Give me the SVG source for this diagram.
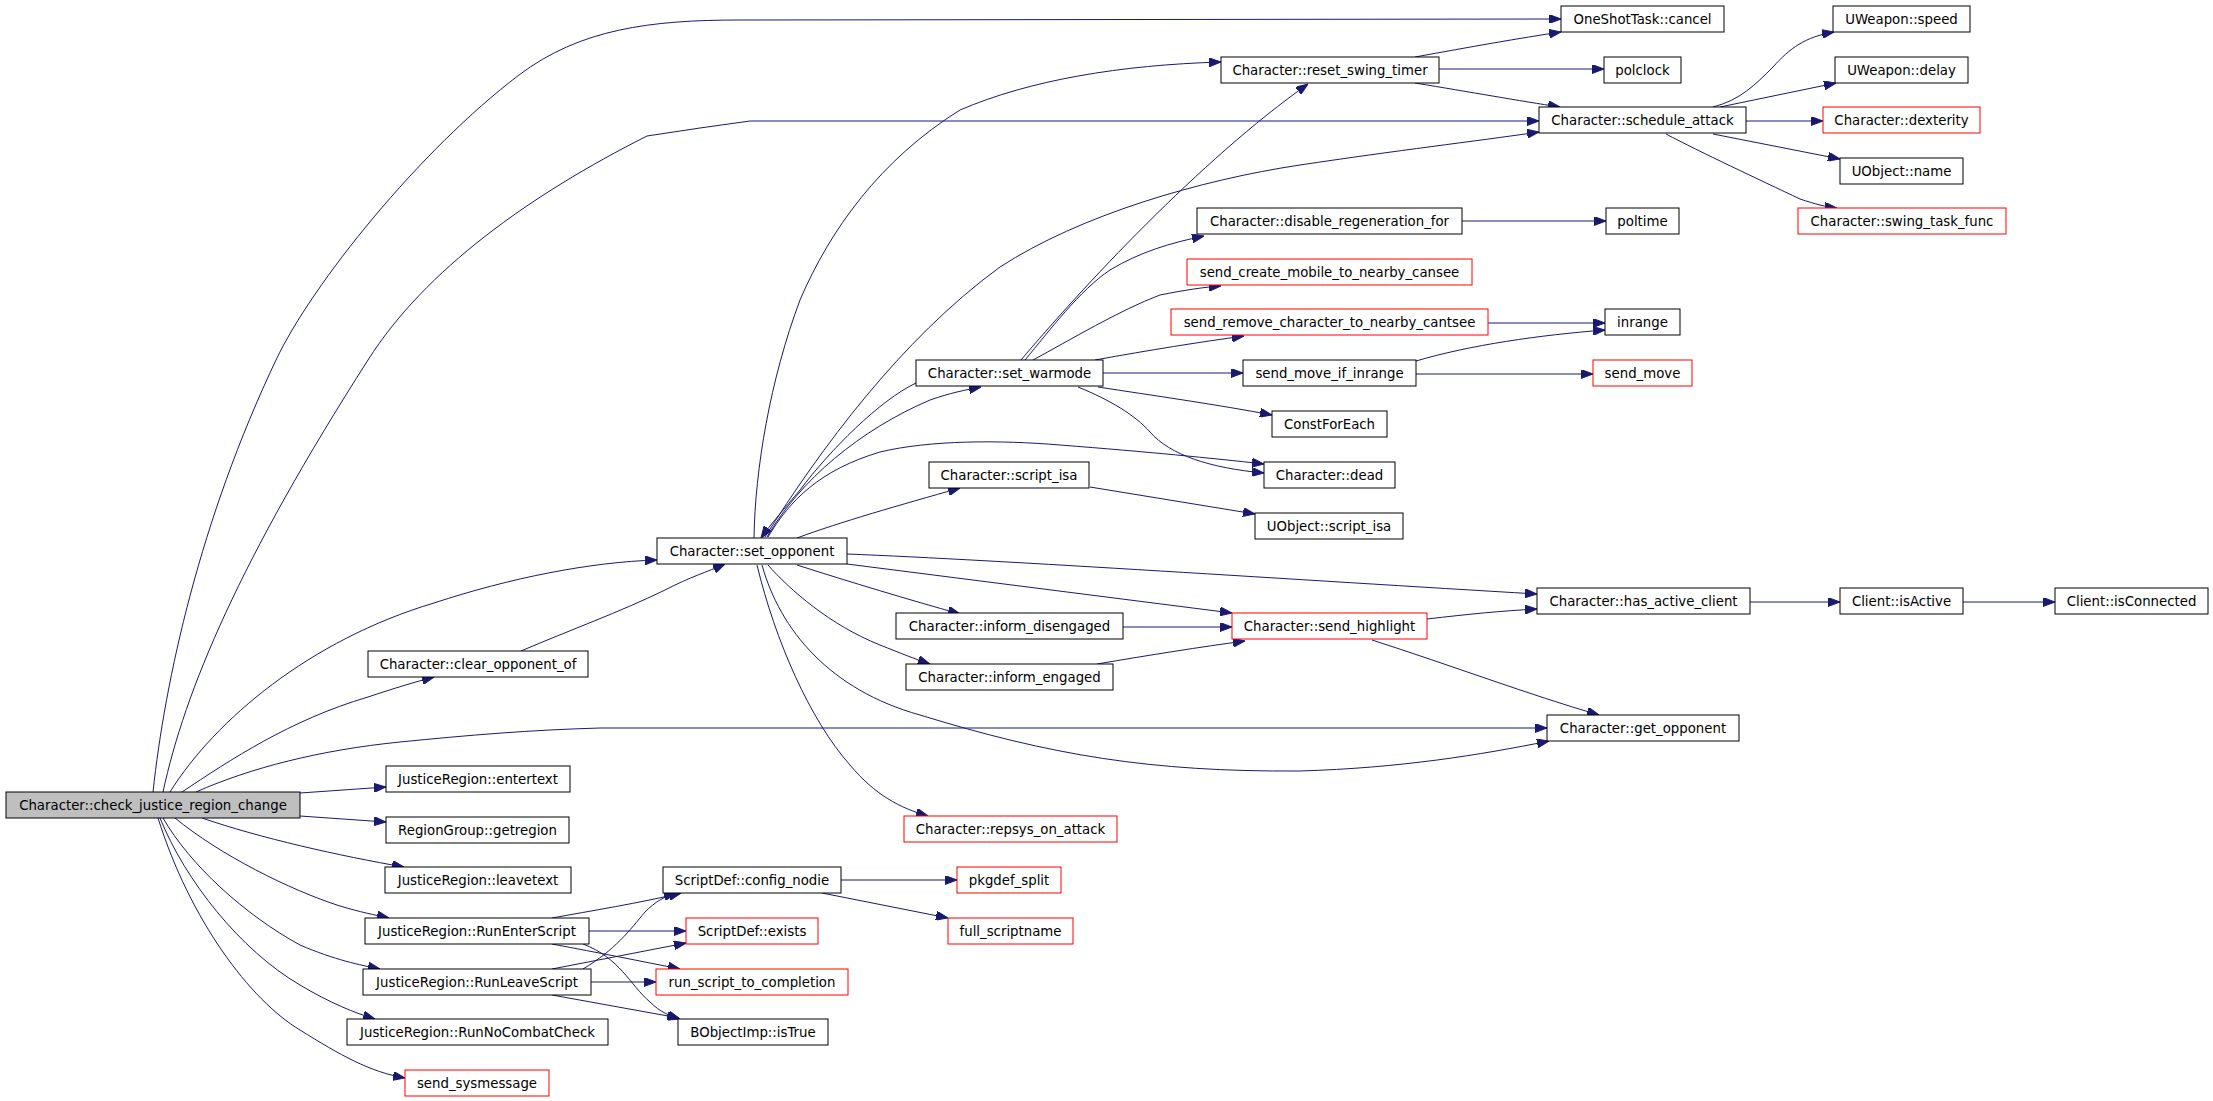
<svg xmlns="http://www.w3.org/2000/svg" width="2213" height="1101" viewBox="0 0 2213 1101">
<style>
.n rect{fill:#fff;stroke:#000;stroke-width:1}
.n.r rect{stroke:#f00}
.n.root rect{fill:#bfbfbf}
.n text{font-family:"DejaVu Sans","Liberation Sans",sans-serif;font-size:13.3px;text-anchor:middle;fill:#000}
#edges path{fill:none;stroke:#191970;stroke-width:1;marker-end:url(#a)}
</style>
<defs>
<marker id="a" viewBox="0 0 12 9" refX="12" refY="4.5" markerWidth="12" markerHeight="9" markerUnits="userSpaceOnUse" orient="auto"><path d="M0,0 L12,4.5 L0,9 z" fill="#191970" stroke="#191970" stroke-width="1"/></marker>
</defs>
<rect width="2213" height="1101" fill="#fff"/>
<g id="edges">
<path d="M153,792 C165,680 200,520 276,360 C312,284 420,150 519,75 C580,29 650,20 740,20 L1561,19"/>
<path d="M163,792 C185,690 240,560 368,360 C425,270 530,195 647,136 L700,128 L750,121 L1539,121"/>
<path d="M170,792 C215,720 310,640 434,603 C510,578 590,562 657,560"/>
<path d="M182,792 C230,760 290,720 368,697 C395,688 415,682 434,677"/>
<path d="M521,651 C570,630 620,612 665,590 C690,577 707,572 725,564"/>
<path d="M196,792 C250,768 320,750 400,742 C470,735 530,730 600,728 L1547,728"/>
<path d="M300,793 L386,787"/>
<path d="M300,816 L386,822"/>
<path d="M202,818 C260,838 340,856 404,867"/>
<path d="M175,818 C220,855 290,890 340,906 C360,912 375,915 389,918"/>
<path d="M163,818 C190,865 245,915 300,945 C335,960 360,965 380,969"/>
<path d="M160,818 C185,880 240,950 300,985 C330,1003 355,1013 375,1019"/>
<path d="M158,818 C190,920 250,1000 300,1030 C340,1055 370,1072 405,1078"/>
<path d="M552,918 C590,911 640,903 681,893"/>
<path d="M589,931 L686,931"/>
<path d="M552,944 C600,953 640,961 680,969"/>
<path d="M583,944 C620,958 630,985 650,1002 C660,1012 670,1016 680,1019"/>
<path d="M583,969 C615,950 630,930 645,912 C655,902 665,896 676,893"/>
<path d="M552,969 L686,943"/>
<path d="M591,982 L656,982"/>
<path d="M552,995 L679,1018"/>
<path d="M841,880 L957,880"/>
<path d="M822,893 L948,918"/>
<path d="M754,538 C755,470 770,380 800,300 C830,230 880,160 960,110 C1030,80 1120,65 1221,62"/>
<path d="M765,537 C820,450 900,340 1000,267 C1080,215 1200,180 1300,165 C1400,150 1470,142 1539,132"/>
<path d="M767,537 C800,480 860,430 930,400 C950,393 965,390 981,387"/>
<path d="M916,383 C880,400 830,450 800,490 C785,508 770,525 761,538"/>
<path d="M768,537 C790,500 820,470 880,452 C930,440 1000,440 1060,445 C1150,452 1210,458 1264,464"/>
<path d="M797,538 C840,522 900,505 960,488"/>
<path d="M847,554 C1000,560 1300,580 1537,594"/>
<path d="M847,564 L1232,613"/>
<path d="M797,565 C850,582 910,600 960,614"/>
<path d="M768,565 C790,590 830,625 880,645 C900,653 915,659 930,664"/>
<path d="M762,565 C780,630 830,690 920,715 C1050,755 1150,772 1300,771 C1400,768 1480,755 1549,741"/>
<path d="M757,565 C775,640 810,720 850,765 C875,795 900,808 928,816"/>
<path d="M1103,373 L1243,373"/>
<path d="M1098,387 C1150,395 1220,405 1272,415"/>
<path d="M1078,387 C1110,400 1135,415 1150,432 C1170,455 1210,468 1264,473"/>
<path d="M1095,360 C1150,350 1200,342 1244,336"/>
<path d="M1033,360 C1070,340 1120,310 1160,295 C1185,290 1205,287 1221,286"/>
<path d="M1025,360 C1050,330 1080,290 1110,270 C1140,252 1170,243 1204,236"/>
<path d="M1021,360 C1080,290 1200,160 1308,84"/>
<path d="M1415,57 C1470,47 1520,38 1561,32"/>
<path d="M1439,69 L1604,69"/>
<path d="M1415,83 C1470,92 1520,101 1560,107"/>
<path d="M1713,107 C1740,100 1755,85 1773,67 C1790,48 1805,37 1834,32"/>
<path d="M1720,107 L1836,83"/>
<path d="M1746,121 L1823,121"/>
<path d="M1713,134 L1840,159"/>
<path d="M1666,134 C1700,152 1760,180 1800,199 C1815,204 1826,207 1837,208"/>
<path d="M1462,221 L1606,221"/>
<path d="M1488,323 L1605,323"/>
<path d="M1416,361 C1470,345 1540,335 1605,330"/>
<path d="M1416,374 L1593,374"/>
<path d="M1090,487 L1255,514"/>
<path d="M1123,627 L1232,627"/>
<path d="M1097,664 C1150,655 1200,647 1245,641"/>
<path d="M1427,619 C1470,614 1500,611 1537,609"/>
<path d="M1372,640 C1450,665 1530,695 1599,715"/>
<path d="M1750,602 L1840,602"/>
<path d="M1963,602 L2055,602"/>
</g>
<g id="n_cj" class="n root"><rect x="6" y="792" width="294" height="26"/><text x="153" y="810">Character::check_justice_region_change</text></g>
<g id="n_cancel" class="n"><rect x="1561" y="6" width="163" height="26"/><text x="1642.5" y="24">OneShotTask::cancel</text></g>
<g id="n_polclock" class="n"><rect x="1604" y="57" width="77" height="26"/><text x="1642.5" y="75">polclock</text></g>
<g id="n_sched" class="n"><rect x="1539" y="107" width="207" height="26"/><text x="1642.5" y="125">Character::schedule_attack</text></g>
<g id="n_poltime" class="n"><rect x="1606" y="208" width="73" height="26"/><text x="1642.5" y="226">poltime</text></g>
<g id="n_inrange" class="n"><rect x="1605" y="309" width="75" height="26"/><text x="1642.5" y="327">inrange</text></g>
<g id="n_sendmove" class="n r"><rect x="1593" y="360" width="99" height="26"/><text x="1642.5" y="378">send_move</text></g>
<g id="n_hasactive" class="n"><rect x="1537" y="588" width="213" height="26"/><text x="1643.5" y="606">Character::has_active_client</text></g>
<g id="n_getopp" class="n"><rect x="1547" y="715" width="192" height="26"/><text x="1643" y="733">Character::get_opponent</text></g>
<g id="n_speed" class="n"><rect x="1833" y="6" width="137" height="26"/><text x="1901.5" y="24">UWeapon::speed</text></g>
<g id="n_delay" class="n"><rect x="1835" y="57" width="133" height="26"/><text x="1901.5" y="75">UWeapon::delay</text></g>
<g id="n_dex" class="n r"><rect x="1823" y="107" width="157" height="26"/><text x="1901.5" y="125">Character::dexterity</text></g>
<g id="n_name" class="n"><rect x="1840" y="158" width="123" height="26"/><text x="1901.5" y="176">UObject::name</text></g>
<g id="n_swing" class="n r"><rect x="1798" y="208" width="208" height="26"/><text x="1902" y="226">Character::swing_task_func</text></g>
<g id="n_isactive" class="n"><rect x="1840" y="588" width="123" height="26"/><text x="1901.5" y="606">Client::isActive</text></g>
<g id="n_isconn" class="n"><rect x="2055" y="588" width="153" height="26"/><text x="2131.5" y="606">Client::isConnected</text></g>
<g id="n_reset" class="n"><rect x="1221" y="57" width="218" height="26"/><text x="1330" y="75">Character::reset_swing_timer</text></g>
<g id="n_disable" class="n"><rect x="1197" y="208" width="265" height="26"/><text x="1329.5" y="226">Character::disable_regeneration_for</text></g>
<g id="n_create" class="n r"><rect x="1187" y="259" width="285" height="26"/><text x="1329.5" y="277">send_create_mobile_to_nearby_cansee</text></g>
<g id="n_remove" class="n r"><rect x="1171" y="309" width="317" height="26"/><text x="1329.5" y="327">send_remove_character_to_nearby_cantsee</text></g>
<g id="n_moveif" class="n"><rect x="1243" y="360" width="173" height="26"/><text x="1329.5" y="378">send_move_if_inrange</text></g>
<g id="n_constfor" class="n"><rect x="1272" y="411" width="115" height="26"/><text x="1329.5" y="429">ConstForEach</text></g>
<g id="n_dead" class="n"><rect x="1264" y="462" width="131" height="26"/><text x="1329.5" y="480">Character::dead</text></g>
<g id="n_uoscript" class="n"><rect x="1255" y="513" width="148" height="26"/><text x="1329" y="531">UObject::script_isa</text></g>
<g id="n_highlight" class="n r"><rect x="1232" y="613" width="195" height="26"/><text x="1329.5" y="631">Character::send_highlight</text></g>
<g id="n_warmode" class="n"><rect x="916" y="360" width="187" height="26"/><text x="1009.5" y="378">Character::set_warmode</text></g>
<g id="n_scriptisa" class="n"><rect x="929" y="462" width="160" height="26"/><text x="1009" y="480">Character::script_isa</text></g>
<g id="n_disengaged" class="n"><rect x="896" y="613" width="227" height="26"/><text x="1009.5" y="631">Character::inform_disengaged</text></g>
<g id="n_engaged" class="n"><rect x="906" y="664" width="207" height="26"/><text x="1009.5" y="682">Character::inform_engaged</text></g>
<g id="n_repsys" class="n r"><rect x="904" y="816" width="213" height="26"/><text x="1010.5" y="834">Character::repsys_on_attack</text></g>
<g id="n_pkgdef" class="n r"><rect x="957" y="867" width="104" height="26"/><text x="1009" y="885">pkgdef_split</text></g>
<g id="n_fullscript" class="n r"><rect x="948" y="918" width="125" height="26"/><text x="1010.5" y="936">full_scriptname</text></g>
<g id="n_setopp" class="n"><rect x="657" y="538" width="190" height="26"/><text x="752" y="556">Character::set_opponent</text></g>
<g id="n_confignodie" class="n"><rect x="663" y="867" width="178" height="26"/><text x="752" y="885">ScriptDef::config_nodie</text></g>
<g id="n_exists" class="n r"><rect x="686" y="918" width="132" height="26"/><text x="752" y="936">ScriptDef::exists</text></g>
<g id="n_runscript" class="n r"><rect x="656" y="969" width="192" height="26"/><text x="752" y="987">run_script_to_completion</text></g>
<g id="n_istrue" class="n"><rect x="678" y="1019" width="150" height="26"/><text x="753" y="1037">BObjectImp::isTrue</text></g>
<g id="n_clearopp" class="n"><rect x="368" y="651" width="220" height="26"/><text x="478" y="669">Character::clear_opponent_of</text></g>
<g id="n_entertext" class="n"><rect x="386" y="766" width="184" height="26"/><text x="478" y="784">JusticeRegion::entertext</text></g>
<g id="n_getregion" class="n"><rect x="386" y="817" width="183" height="26"/><text x="477.5" y="835">RegionGroup::getregion</text></g>
<g id="n_leavetext" class="n"><rect x="385" y="867" width="186" height="26"/><text x="478" y="885">JusticeRegion::leavetext</text></g>
<g id="n_runenter" class="n"><rect x="365" y="918" width="224" height="26"/><text x="477" y="936">JusticeRegion::RunEnterScript</text></g>
<g id="n_runleave" class="n"><rect x="363" y="969" width="228" height="26"/><text x="477" y="987">JusticeRegion::RunLeaveScript</text></g>
<g id="n_runnocombat" class="n"><rect x="347" y="1019" width="261" height="26"/><text x="477.5" y="1037">JusticeRegion::RunNoCombatCheck</text></g>
<g id="n_sysmsg" class="n r"><rect x="405" y="1070" width="144" height="26"/><text x="477" y="1088">send_sysmessage</text></g>
</svg>
